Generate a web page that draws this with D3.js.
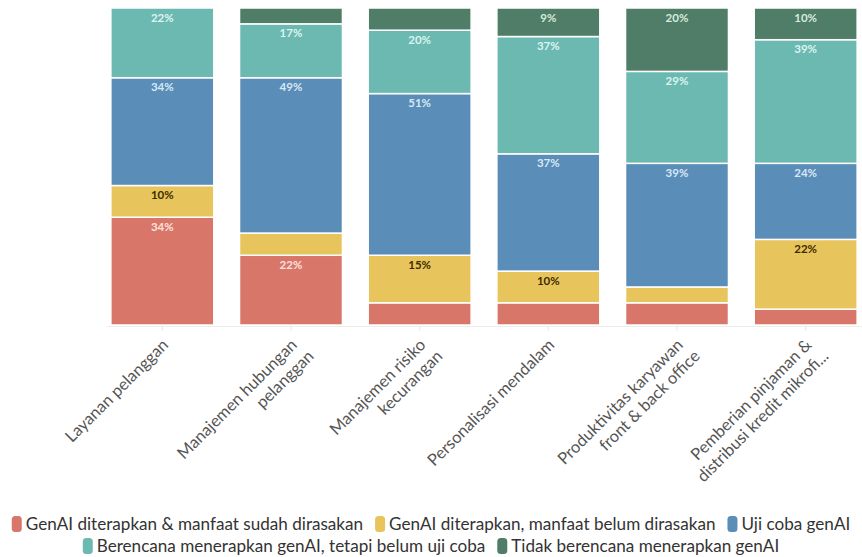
<!DOCTYPE html>
<html>
<head>
<meta charset="utf-8">
<script src="https://cdn.jsdelivr.net/npm/d3@7"></script>
<style>
  html, body { margin: 0; padding: 0; background: #fff; }
  svg { display: block; font-family: Lato, "Open Sans", sans-serif; }
</style>
</head>
<body>
<svg id="chart" width="862" height="557"></svg>
<script>
// Use-case categories (x axis), each wrapped into display lines
const categories = [
  ["Layanan pelanggan"],
  ["Manajemen hubungan", "pelanggan"],
  ["Manajemen risiko", "kecurangan"],
  ["Personalisasi mendalam"],
  ["Produktivitas karyawan", "front & back office"],
  ["Pemberian pinjaman &", "distribusi kredit mikrofi..."]
];

// Series names, stacked from the bottom up
const seriesNames = [
  "GenAI diterapkan & manfaat sudah dirasakan",
  "GenAI diterapkan, manfaat belum dirasakan",
  "Uji coba genAI",
  "Berencana menerapkan genAI, tetapi belum uji coba",
  "Tidak berencana menerapkan genAI"
];

// Share of respondents (%) per category, one array per series
const applied   = [34, 22, 7, 7, 7, 5];
const noBenefit = [10, 7, 15, 10, 5, 22];
const pilot     = [34, 49, 51, 37, 39, 24];
const planning  = [22, 17, 20, 37, 29, 39];
const notPlanned = [0, 5, 7, 9, 20, 10];

const seriesColors = ["#d9766a", "#e8c45c", "#5a8db7", "#6cb9b1", "#4f7d67"];
const labelColors  = ["#fbe2dc", "#3b2c00", "#d8e8f6", "#dcf4f0", "#d6ebdf"];
const labelMin = 9;

const svg = d3.select("#chart");
const W = 862, H = 557;
const margin = { top: 8, right: 1, bottom: 232, left: 107 };
const plotW = W - margin.left - margin.right;
const plotH = H - margin.top - margin.bottom;

const g = svg.append("g").attr("transform", `translate(${margin.left},${margin.top})`);

const rows = categories.map((c, i) => ({
  key: i,
  s0: applied[i], s1: noBenefit[i], s2: pilot[i], s3: planning[i], s4: notPlanned[i]
}));
const keys = ["s0", "s1", "s2", "s3", "s4"];
const stacked = d3.stack().keys(keys)(rows);

const x = d3.scaleBand().domain(d3.range(categories.length)).range([0, plotW]).paddingInner(0.2).paddingOuter(0.03);
const y = d3.scaleLinear().domain([0, 100]).range([plotH, 0]);

// Baseline axis with small ticks
const xAxis = d3.axisBottom(x).tickSize(5).tickSizeOuter(0).tickFormat("");
const axisG = g.append("g").attr("transform", `translate(0,${plotH + 1})`).call(xAxis);
axisG.select(".domain").attr("stroke", "#ececec");
axisG.selectAll(".tick line").attr("stroke", "#e6e6e6");

// Stacked segments
const layer = g.selectAll("g.layer").data(stacked).join("g").attr("class", "layer")
  .attr("fill", (d, i) => seriesColors[i]);

layer.selectAll("rect").data(d => d.filter(p => p[1] - p[0] > 0)).join("rect")
  .attr("x", d => x(d.data.key))
  .attr("width", x.bandwidth())
  .attr("y", d => y(d[1]))
  .attr("height", d => y(d[0]) - y(d[1]))
  .attr("stroke", "#ffffff")
  .attr("stroke-width", 1.5);

// Value labels near the top of each segment
stacked.forEach((s, si) => {
  g.append("g").selectAll("text").data(s.filter(p => p[1] - p[0] >= labelMin)).join("text")
    .attr("x", d => x(d.data.key) + x.bandwidth() / 2)
    .attr("y", d => y(d[1]) + 13.5)
    .attr("text-anchor", "middle")
    .attr("font-size", 11.5)
    .attr("font-weight", 700)
    .attr("fill", labelColors[si])
    .text(d => `${d[1] - d[0]}%`);
});

// Rotated category labels
const lab = g.append("g").selectAll("text").data(categories).join("text")
  .attr("transform", (d, i) => `translate(${x(i) + x.bandwidth() / 2 + 7},${plotH + 21}) rotate(-45)`)
  .attr("text-anchor", "end")
  .attr("font-size", 16.5)
  .attr("fill", "#555");
lab.each(function(lines) {
  d3.select(this).selectAll("tspan").data(lines).join("tspan")
    .attr("x", (d, i) => i === 0 ? 0 : 4)
    .attr("dy", (d, i) => i === 0 ? 0 : "1.2em")
    .text(d => d);
});

// Legend, wrapped into centred rows
const legendFont = 17.1, sym = { w: 10, h: 16 }, gap = 4, itemGap = 12, maxW = 858;
const legend = svg.append("g");
const items = seriesNames.map((name, i) => {
  const it = legend.append("g");
  it.append("rect").attr("width", sym.w).attr("height", sym.h).attr("rx", 3.5).attr("fill", seriesColors[i]);
  const t = it.append("text").attr("x", sym.w + gap).attr("y", sym.h / 2).attr("dy", "0.35em")
    .attr("font-size", legendFont).attr("fill", "#333").text(name);
  return { node: it, w: sym.w + gap + t.node().getComputedTextLength() };
});
const lines = [[]];
let cur = 0;
items.forEach(it => {
  const add = (lines[lines.length - 1].length ? itemGap : 0) + it.w;
  if (cur + add > maxW && lines[lines.length - 1].length) { lines.push([it]); cur = it.w; }
  else { lines[lines.length - 1].push(it); cur += add; }
});
const legendTop = 516, lineH = 22;
lines.forEach((ln, li) => {
  const total = d3.sum(ln, d => d.w) + itemGap * (ln.length - 1);
  let xx = (W - total) / 2;
  ln.forEach(it => {
    it.node.attr("transform", `translate(${xx},${legendTop + li * lineH})`);
    xx += it.w + itemGap;
  });
});
</script>
</body>
</html>
